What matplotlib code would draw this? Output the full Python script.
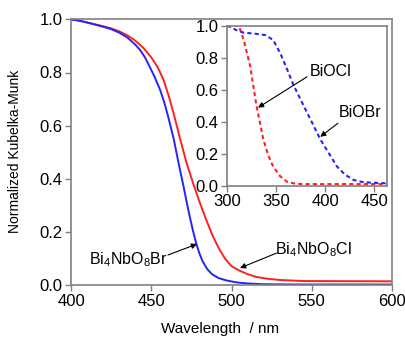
import numpy as np
import matplotlib as mpl
mpl.use('Agg')
import matplotlib.pyplot as plt

# setting the figure
plt.rcParams['font.family'] = ['Liberation Sans', 'DejaVu Sans']
plt.rcParams['mathtext.default'] = 'regular'
plt.rcParams['font.size'] = 12

# main panel data
wl_br = [400, 405, 410, 415, 420, 425, 430, 435, 440, 443, 446, 449, 452, 455.5,
         458, 460.5, 464, 467, 470, 472, 474, 476, 478, 480, 482, 485, 488, 492,
         497, 503, 510, 520, 540, 600]
km_br = [1.0, 0.995, 0.988, 0.98, 0.972, 0.963, 0.95, 0.932, 0.905, 0.885, 0.858,
         0.822, 0.785, 0.735, 0.69, 0.635, 0.55, 0.46, 0.375, 0.315, 0.258, 0.205,
         0.158, 0.12, 0.09, 0.06, 0.041, 0.027, 0.018, 0.011, 0.007, 0.004, 0.003,
         0.003]
wl_cl = [400, 405, 410, 415, 420, 425, 430, 435, 440, 445, 450, 454, 457.5, 461,
         464, 468, 472, 476, 480, 484, 488, 492, 496, 500, 505, 510, 515, 522, 530,
         545, 600]
km_cl = [1.0, 0.995, 0.988, 0.981, 0.974, 0.966, 0.955, 0.94, 0.92, 0.893, 0.857,
         0.82, 0.775, 0.71, 0.645, 0.55, 0.46, 0.385, 0.315, 0.25, 0.19, 0.14, 0.1,
         0.072, 0.055, 0.042, 0.032, 0.025, 0.02, 0.016, 0.015]

# inset data
wl_ocl = [300, 305, 312, 317, 323.5, 330, 337, 342, 347, 354, 361, 370, 380, 400, 430, 463]
km_ocl = [1.0, 1.0, 1.0, 0.91, 0.75, 0.5, 0.29, 0.19, 0.12, 0.06, 0.025, 0.012,
          0.01, 0.01, 0.01, 0.01]
wl_obr = [300, 310, 317, 327, 339, 347, 354, 361, 368, 378, 387, 395, 404, 412,
          420, 429, 437, 446, 463]
km_obr = [1.0, 0.97, 0.955, 0.95, 0.94, 0.91, 0.83, 0.73, 0.625, 0.5, 0.39,
          0.29, 0.2, 0.12, 0.07, 0.036, 0.024, 0.019, 0.015]

red = '#ff2020'
blue = '#2424ff'
grey = '#808080'

fig = plt.figure(figsize=(4.06, 3.37), dpi=100)
ax = fig.add_axes([71/406, 1-285.3/337, 321/406, 266/337])
ax.plot(wl_cl, km_cl, color=red, lw=1.4)
ax.plot(wl_br, km_br, color=blue, lw=1.4)
ax.set_xlim(400, 600)
ax.set_ylim(0, 1.0)
ax.set_xticks([400, 450, 500, 550, 600])
ax.set_yticks(np.arange(0, 1.01, 0.2))
ax.yaxis.set_major_formatter(mpl.ticker.FormatStrFormatter('%.1f'))

arr = dict(arrowstyle='-|>', color='k', lw=0.8, mutation_scale=8, shrinkA=0, shrinkB=0)
ax.text(435.5, 0.095, r'Bi$_4$NbO$_8$Br', ha='center', va='center', fontsize=11.5)
ax.annotate('', xy=(478.5, 0.155), xytext=(460.4, 0.114), arrowprops=arr)
ax.text(551, 0.133, r'Bi$_4$NbO$_8$Cl', ha='center', va='center', fontsize=11.5)
ax.annotate('', xy=(505.3, 0.065), xytext=(528, 0.121), arrowprops=arr)

fig.text(220/406, 1-333/337, 'Wavelength  / nm', ha='center', va='baseline', fontsize=11)
fig.text(15/406, 1-151.5/337, 'Normalized Kubelka-Munk', ha='center', va='center',
         rotation=90, fontsize=10)

# inset
axi = fig.add_axes([227/406, 1-185.7/337, 160/406, 160.2/337])
axi.plot(wl_ocl, km_ocl, color=red, lw=1.5, ls=(0, (2, 1.5)))
axi.plot(wl_obr, km_obr, color=blue, lw=1.5, ls=(0, (2, 1.5)))
axi.set_xlim(300, 463)
axi.set_ylim(0, 1.0)
axi.set_xticks([300, 350, 400, 450])
axi.set_yticks(np.arange(0, 1.01, 0.2))
axi.yaxis.set_major_formatter(mpl.ticker.FormatStrFormatter('%.1f'))
axi.text(406, 0.71, 'BiOCl', ha='center', va='center', fontsize=11.5)
axi.annotate('', xy=(331.6, 0.487), xytext=(381.6, 0.68), arrowprops=arr)
axi.text(436, 0.455, 'BiOBr', ha='center', va='center', fontsize=11.5)
axi.annotate('', xy=(395, 0.305), xytext=(413, 0.39), arrowprops=arr)

#deco
for a in [ax, axi]:
    a.tick_params(direction='out', length=4, width=1, color=grey, pad=2,
                  top=False, right=False)
    for side in ['top', 'bottom', 'left', 'right']:
        a.spines[side].set_linewidth(1.2)
        a.spines[side].set_color(grey)

fig.savefig('out.png', dpi=100)
